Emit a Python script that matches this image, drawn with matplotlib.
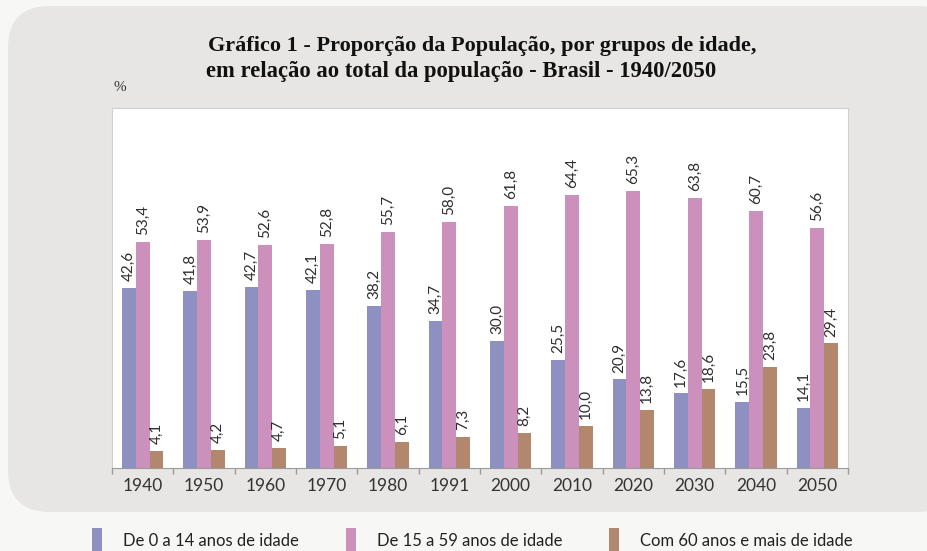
import matplotlib.pyplot as plt
from matplotlib.patches import FancyBboxPatch, Rectangle
import numpy as np

# Dados do gráfico (IBGE)
anos = ["1940", "1950", "1960", "1970", "1980", "1991",
        "2000", "2010", "2020", "2030", "2040", "2050"]
de_0_a_14 = [42.6, 41.8, 42.7, 42.1, 38.2, 34.7, 30.0, 25.5, 20.9, 17.6, 15.5, 14.1]
de_15_a_59 = [53.4, 53.9, 52.6, 52.8, 55.7, 58.0, 61.8, 64.4, 65.3, 63.8, 60.7, 56.6]
com_60_mais = [4.1, 4.2, 4.7, 5.1, 6.1, 7.3, 8.2, 10.0, 13.8, 18.6, 23.8, 29.4]
nomes_series = ["De 0 a 14 anos de idade", "De 15 a 59 anos de idade",
                "Com 60 anos e mais de idade"]
cores = ["#8e90c1", "#cc90bd", "#b2876d"]

W, H = 927, 551
fig = plt.figure(figsize=(W / 100, H / 100), dpi=100)
fig.patch.set_facecolor("#f7f7f5")

# Fundo cinza arredondado
fundo = FancyBboxPatch((8 / W, 1 - 512 / H), (960 - 8) / W, (512 - 6) / H,
                       boxstyle="round,pad=0,rounding_size=0.045",
                       transform=fig.transFigure, facecolor="#e7e6e4",
                       edgecolor="none", mutation_aspect=W / H, zorder=-10)
fig.patches.append(fundo)

ax = fig.add_axes([112 / W, 1 - 468 / H, (848 - 112) / W, (468 - 108) / H])
ax.set_zorder(5)
ax.set_facecolor("white")

x = np.arange(len(anos))
largura = 0.225
series = [de_0_a_14, de_15_a_59, com_60_mais]
for k, (valores, cor) in enumerate(zip(series, cores)):
    pos = x + (k - 1) * largura
    ax.bar(pos, valores, width=largura, color=cor, edgecolor="none", zorder=2)
    for xi, v in zip(pos, valores):
        ax.annotate(f"{v:.1f}".replace(".", ","), (xi, v), xytext=(0, 5),
                    textcoords="offset points", rotation=90, ha="center",
                    va="bottom", fontsize=11, family="Lato", color="#2e2e2e")

ax.set_xlim(-0.5, len(anos) - 0.5)
ax.set_ylim(0, 85)
ax.set_yticks([])
ax.set_xticks(x)
ax.set_xticklabels(anos, fontsize=12.5, family="Lato", color="#333333")
ax.tick_params(axis="x", which="major", length=0, pad=7)
ax.set_xticks(np.arange(-0.5, len(anos)), minor=True)
ax.tick_params(axis="x", which="minor", length=4, color="#9a9a9a", width=1)
for lado in ["left", "right", "top"]:
    ax.spines[lado].set_color("#d0d0d0")
ax.spines["bottom"].set_color("#9a9a9a")

# Título
fig.text(208 / W, 1 - 46 / H,
         "Gráfico 1 - Proporção da População, por grupos de idade,",
         ha="left", va="center", fontsize=16, fontweight="bold",
         family="Liberation Serif", color="#111111")
fig.text(206 / W, 1 - 71 / H,
         "em relação ao total da população - Brasil - 1940/2050",
         ha="left", va="center", fontsize=16.3, fontweight="bold",
         family="Liberation Serif", color="#111111")
fig.text(113 / W, 1 - 88 / H, "%", ha="left", va="center", fontsize=11,
         family="Liberation Serif", color="#333333")

# Legenda
legenda_x = [92, 346, 609]
for xl, nome, cor in zip(legenda_x, nomes_series, cores):
    fig.patches.append(Rectangle((xl / W, 0), 10 / W, (551 - 528) / H,
                                 transform=fig.transFigure, facecolor=cor,
                                 edgecolor="none"))
    fig.text((xl + 31) / W, 1 - 541 / H, nome, ha="left", va="center",
             fontsize=12, family="Lato", color="#222222")

fig.savefig("out.png", dpi=100, facecolor=fig.get_facecolor())
